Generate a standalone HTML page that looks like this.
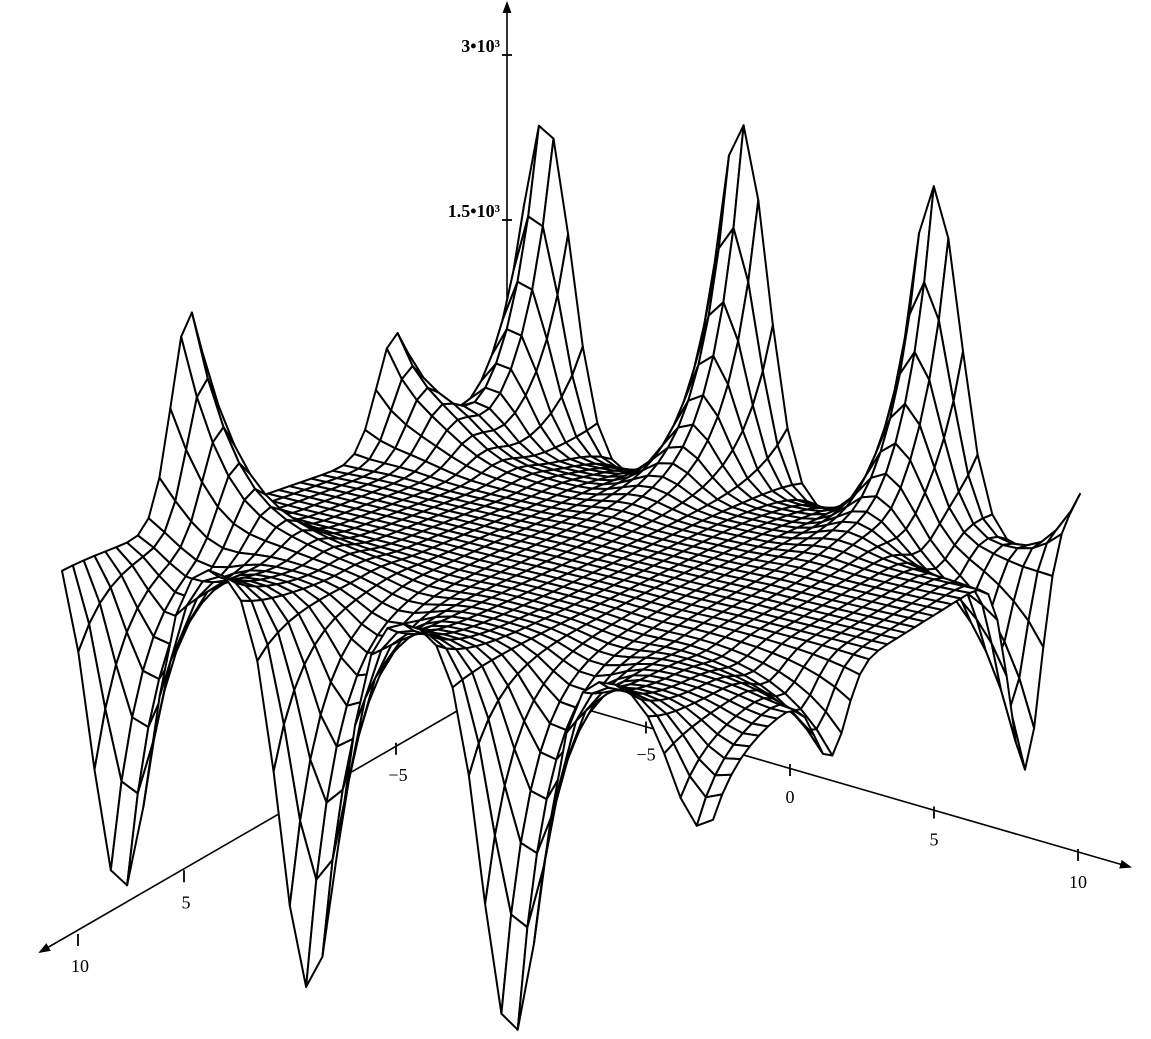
<!DOCTYPE html>
<html><head><meta charset="utf-8"><style>
html,body{margin:0;padding:0;background:#fff;}
svg{display:block;}
text{font-family:"Liberation Serif",serif;font-size:18px;fill:#000;}
</style></head><body>
<svg id="chart" width="1151" height="1039" viewBox="0 0 1151 1039" xmlns="http://www.w3.org/2000/svg">
<defs><marker id="arr" markerWidth="12" markerHeight="10" refX="10" refY="5" orient="auto" markerUnits="userSpaceOnUse"><path d="M0,0.5 L12,5 L0,9.5 z" fill="#000"/></marker></defs>
<g id="axes"></g>
<g id="mesh"></g>
</svg>
<script>
// ---- data ----
const xTicks = [-10, -5, 0, 5, 10];
const xTickLabels = ["\u221210", "\u22125", "0", "5", "10"];
const yTicks = [-5, 5, 10];
const yTickLabels = ["\u22125", "5", "10"];
const zTicks = [1500, 3000];
const zTickLabels = ["1.5\u202210\u00b3", "3\u202210\u00b3"];
// edge features (positions in data units, heights in z units)
const backPeakX = [-8.3, -1.6, 5.0, 10.8];
const backPeakZ = [3100, 3400, 3150, 900];
const frontDipX = [-8.2, -2.4, 3.8, 9.6];
const frontDipZ = [3200, 3600, 3500, 1100];
const leftPeakY = [-5.4, 4.1];
const leftPeakZ = [1050, 1900];
const rightDipY = [-7.0, 3.6];
const rightDipZ = [1950, 700];
const backBase = -320;
const frontBase = 380;

const NS = "http://www.w3.org/2000/svg";
const ZS = 0.11;
const CB = [495, 415], CR = [1080, 525], CL = [62, 565], CF = [713, 752];
function ground(x, y) {
  const u = (x + 10) / 20, v = (y + 10) / 20;
  const sx = CB[0] * (1 - u) * (1 - v) + CR[0] * u * (1 - v) + CL[0] * (1 - u) * v + CF[0] * u * v;
  const sy = CB[1] * (1 - u) * (1 - v) + CR[1] * u * (1 - v) + CL[1] * (1 - u) * v + CF[1] * u * v;
  return [sx, sy];
}
function P(x, y, z) { const g = ground(x, y); return [g[0], g[1] - z * ZS]; }
function bumps(t, pos, amp, s) {
  let r = 0;
  for (let i = 0; i < pos.length; i++) { const d = t - pos[i]; r += amp[i] * Math.exp(-d * d / (2 * s * s)); }
  return r;
}
function f(x, y) {
  const L = 1.45;
  const eB = Math.exp(-(y + 10) / L), eF = Math.exp(-(10 - y) / L);
  const eL = Math.exp(-(x + 10) / L), eR = Math.exp(-(10 - x) / L);
  const back = bumps(x, backPeakX, backPeakZ, 0.9) + backBase;
  const front = -bumps(x, frontDipX, frontDipZ, 0.9) + frontBase;
  const left = bumps(y, leftPeakY, leftPeakZ, 0.85);
  const right = -bumps(y, rightDipY, rightDipZ, 0.85);
  return eB * back + eF * front + eL * left + eR * right;
}
function el(tag, attrs, parent) {
  const e = document.createElementNS(NS, tag);
  for (const k in attrs) e.setAttribute(k, attrs[k]);
  parent.appendChild(e);
  return e;
}
// ---- axes ----
function xAxisPt(v) { return [790 + v * 28.8, 770 + v * 8.5]; }
function yAxisPt(v) { return [502 - (v + 10) * 21.2, 685 + (v + 10) * 12.75]; }
function zAxisY(v) { return 385 - v * ZS; }
const axes = document.getElementById('axes');
const o = xAxisPt(-10);
let ax = el('line', {x1: o[0], y1: o[1], x2: 1130, y2: 867, stroke: '#000', 'stroke-width': 1.6, 'marker-end': 'url(#arr)'}, axes);


let ay = el('line', {x1: o[0], y1: o[1], x2: 40, y2: 952, stroke: '#000', 'stroke-width': 1.6, 'marker-end': 'url(#arr)'}, axes);


let az = el('line', {x1: 507, y1: 690, x2: 507, y2: 3, stroke: '#000', 'stroke-width': 1.6, 'marker-end': 'url(#arr)'}, axes);


xTicks.forEach((t, i) => {
  const p = xAxisPt(t);
  const tk = el('line', {x1: p[0], y1: p[1] - 6, x2: p[0], y2: p[1] + 6, stroke: '#000', 'stroke-width': 1.8}, axes);
  
  
  const tx = el('text', {x: p[0], y: p[1] + 33, 'text-anchor': 'middle'}, axes);
  tx.textContent = xTickLabels[i];
  
  
});
yTicks.forEach((t, i) => {
  const p = yAxisPt(t);
  const tk = el('line', {x1: p[0], y1: p[1] - 6, x2: p[0], y2: p[1] + 6, stroke: '#000', 'stroke-width': 1.8}, axes);
  
  
  const tx = el('text', {x: p[0] + 2, y: p[1] + 32, 'text-anchor': 'middle'}, axes);
  tx.textContent = yTickLabels[i];
  
  
});
zTicks.forEach((t, i) => {
  const sy = zAxisY(t);
  const tk = el('line', {x1: 502, y1: sy, x2: 512, y2: sy, stroke: '#000', 'stroke-width': 1.8}, axes);
  
  
  const tx = el('text', {x: 500, y: sy - 3, 'text-anchor': 'end', 'font-size': '17', 'font-weight': 'bold'}, axes);
  tx.textContent = zTickLabels[i];
  
  
});
// ---- mesh ----
const mesh = document.getElementById('mesh');
const N = 40, step = 20 / N;
const quads = [];
for (let i = 0; i < N; i++) for (let j = 0; j < N; j++) {
  const x0 = -10 + i * step, y0 = -10 + j * step, x1 = x0 + step, y1 = y0 + step;
  const pts = [[x0, y0], [x1, y0], [x1, y1], [x0, y1]].map(q => P(q[0], q[1], f(q[0], q[1])));
  const g = ground((x0 + x1) / 2, (y0 + y1) / 2);
  quads.push({d: g[1], pts});
}
quads.sort((a, b) => a.d - b.d);
quads.forEach(q => {
  const pg = el('polygon', {points: q.pts.map(p => p[0].toFixed(1) + ',' + p[1].toFixed(1)).join(' '),
    fill: '#fff', stroke: '#000', 'stroke-width': 2, 'stroke-linejoin': 'round'}, mesh);
  
  
});
</script>
</body></html>
